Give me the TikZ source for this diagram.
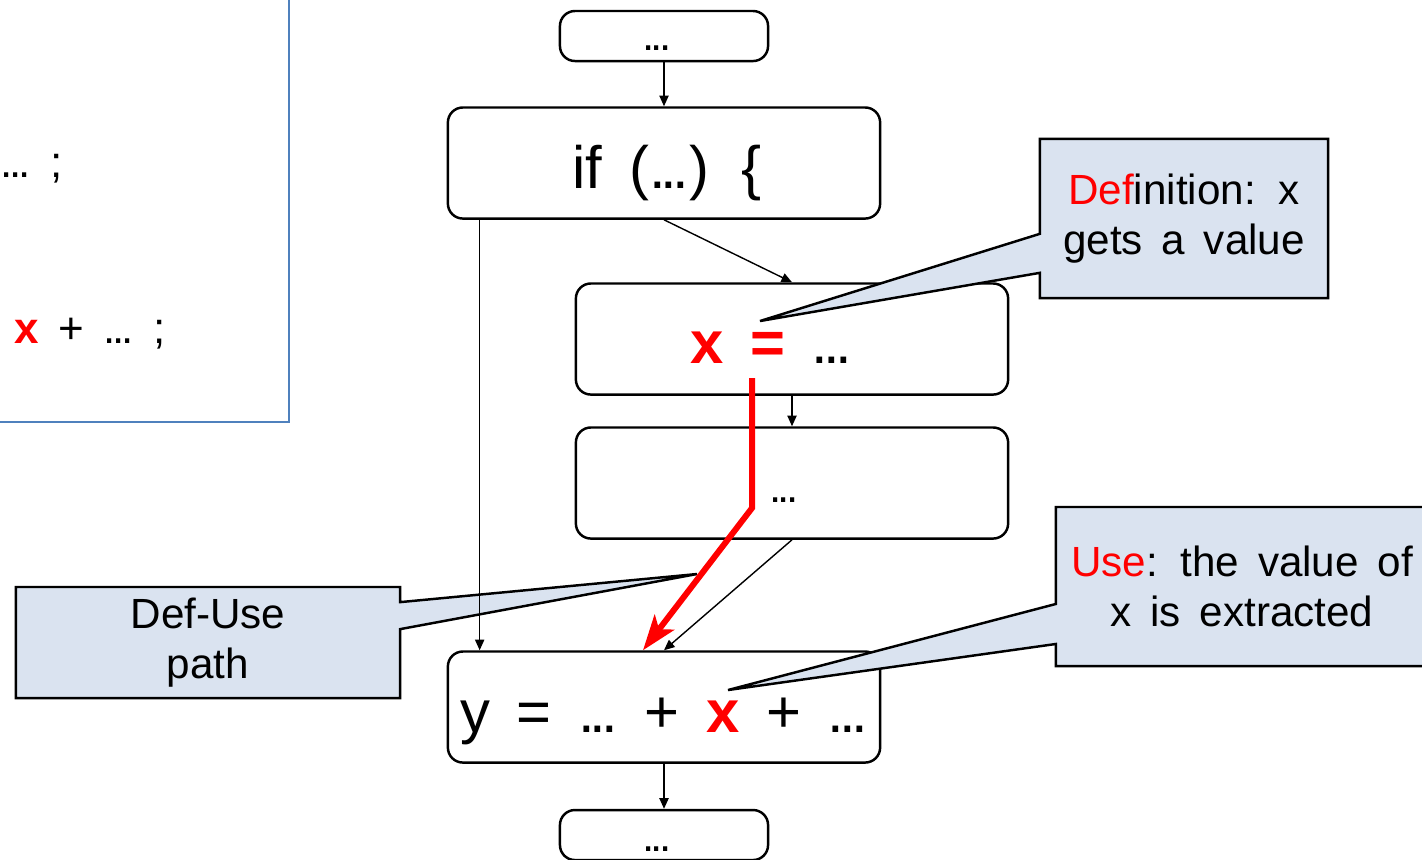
\documentclass[tikz,border=0pt]{standalone}
\usepackage{fontspec}
\setmainfont{Liberation Sans}[WordSpace=1.6]
\usetikzlibrary{arrows.meta,shapes.callouts}
\definecolor{notefill}{RGB}{218,227,240}
\definecolor{codeblue}{RGB}{79,129,189}
\newcommand\ddd{.\kern-.08em.\kern-.08em.}

\begin{document}
\begin{tikzpicture}[x=0.01cm,y=-0.01cm,
    stmt/.style={draw,line width=0.7pt,rounded corners=0.15cm,inner sep=0pt,
      minimum width=4.32cm,minimum height=1.11cm},
    stub/.style={stmt,minimum width=2.08cm,minimum height=0.5cm},
    big/.style={inner sep=0pt,font=\fontsize{17}{20}\selectfont},
    little/.style={inner sep=0pt,font=\fontsize{12.5}{15}\selectfont},
    note/.style={rectangle callout,draw,fill=notefill,line width=0.7pt,inner sep=0pt,
      align=center,font=\fontsize{12}{14.2}\selectfont},
    flow/.style={-{Triangle[length=3pt,width=2.6pt]},line width=0.4pt}]
  \useasboundingbox (0,0) rectangle (1422,859);
  \clip (0,0) rectangle (1422,859);

  % program text, cut off at the left
  \draw [codeblue,line width=0.7pt] (-20,-20) rectangle (289,422);
  \node [little,anchor=base east] (srcA) at (63,177) {\ddd\ ;};
  \node [little,anchor=base west] (srcB) at (14,343) {\textcolor{red}{\textbf{x}} + \ddd\ ;};

  % flow graph
  \node [stub] (entry) at (664,36) {};
  \node [stmt] (cond) at (664,163) {};
  \node [stmt] (def) at (792,339) {};
  \node [stmt] (mid) at (792,483) {};
  \node [stmt] (use) at (664,707) {};
  \node [stub] (exit) at (664,835) {};

  \node [little,anchor=base] (entryT) at (657,50) {\ddd};
  \node [big,anchor=base] (condT) at (667,188) {if (\ddd) \{};
  \node [big,anchor=base] (defT) at (771,363) {\textcolor{red}{\textbf{x} \textbf{=}} \ddd};
  \node [little,anchor=base] (midT) at (784,502) {\ddd};
  \node [big,anchor=base] (useT) at (664,732) {y = \ddd\ + \textcolor{red}{\textbf{x}} + \ddd};
  \node [little,anchor=base] (exitT) at (657,851) {\ddd};

  % notes
  \node [note,minimum width=2.88cm,minimum height=1.59cm,
    callout absolute pointer={(760,321)},callout pointer width=0.39cm] (defNote) at (1184,218.5)
    {\textcolor{red}{Def}inition: x\\gets a value};
  \node [note,minimum width=3.72cm,minimum height=1.59cm,
    callout absolute pointer={(728,690)},callout pointer width=0.40cm] (useNote) at (1242,586.5)
    {\textcolor{red}{Use}: the value of\\x is extracted};
  \node [note,minimum width=3.84cm,minimum height=1.11cm,
    callout absolute pointer={(697,574)},callout pointer width=0.27cm] (pathNote) at (208,642.5)
    {Def-Use\\path};

  \draw [flow] (entry) -- (cond);
  \draw [flow] (cond.south) -- (def.north);
  \draw [flow] ([xshift=0.33cm]cond.south west) -- ([xshift=0.33cm]use.north west);
  \draw [flow] (def) -- (mid);
  \draw [flow] (mid.south) -- (use.north);
  \draw [flow] (use) -- (exit);

  % def-use path
  \coordinate (defX) at (752,378);
  \coordinate (turn) at (752,508);
  \draw [red,line width=1.7pt,-{Stealth[length=10pt,width=7pt,inset=2.5pt]}]
    (defX) -- (turn) -- ([xshift=-0.21cm]use.north);
\end{tikzpicture}
\end{document}
